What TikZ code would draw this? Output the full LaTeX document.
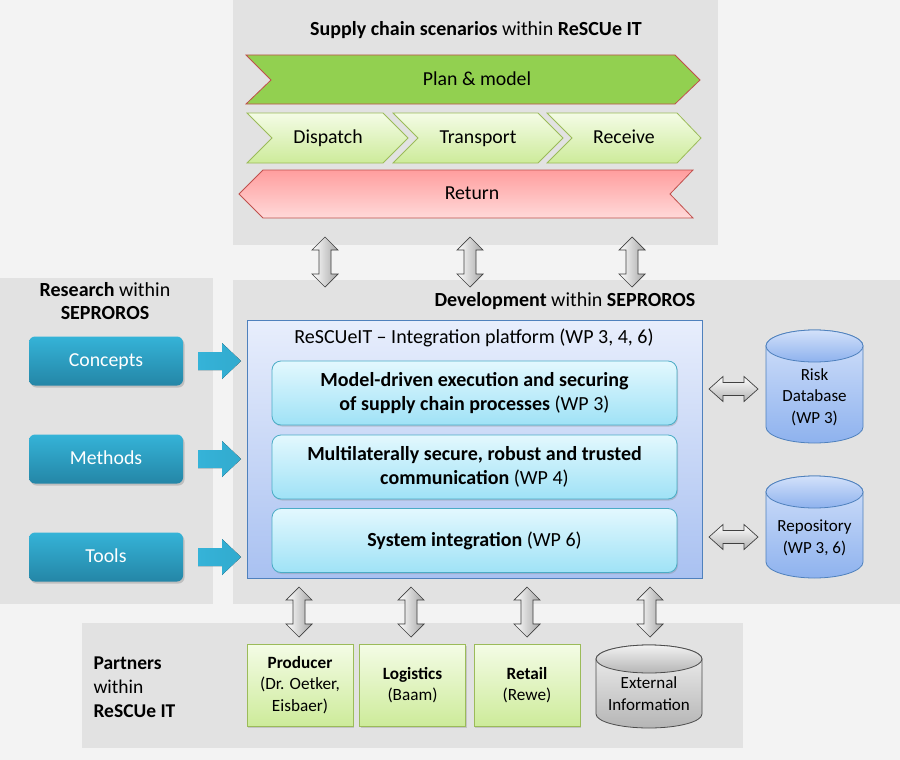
\documentclass[tikz,border=0pt]{standalone}
\usepackage{fontspec}
\setmainfont{Carlito}
\usetikzlibrary{shadows}
\definecolor{bgc}{HTML}{F3F3F3}
\definecolor{panel}{HTML}{E2E2E2}
\definecolor{plang}{HTML}{92D050}
\definecolor{redb}{HTML}{C0504D}
\definecolor{greenb}{HTML}{9BBB59}
\definecolor{lgreen1}{HTML}{F4FCE6}
\definecolor{lgreen2}{HTML}{CDEB9A}
\definecolor{pink1}{HTML}{FF9E9E}
\definecolor{pink2}{HTML}{FFD9D9}
\definecolor{teal1}{HTML}{35B3D8}
\definecolor{teal2}{HTML}{2486A6}
\definecolor{blueb}{HTML}{4F81BD}
\definecolor{blue1}{HTML}{E8EEFC}
\definecolor{blue2}{HTML}{A9C1F1}
\definecolor{cyan1}{HTML}{E3F8FE}
\definecolor{cyan2}{HTML}{9FE2F6}
\definecolor{cyanb}{HTML}{4BACC6}
\definecolor{cyl1}{HTML}{D3E1FA}
\definecolor{cyl2}{HTML}{8EB2EE}
\definecolor{gry1}{HTML}{F2F2F2}
\definecolor{gry2}{HTML}{B5B5B5}
\newcommand\fsz[2]{\fontsize{#1}{#2}\selectfont}
\newcommand\vdarrow[3]{\draw[blockarr] (#1,#2) -- ++(13,13) -- ++(-7,0) -- (#1+6,#3-13) -- ++(7,0) -- (#1,#3) -- ++(-13,-13) -- ++(7,0) -- (#1-6,#2+13) -- ++(-7,0) -- cycle;}
\newcommand\hdarrow[3]{\draw[hblockarr] (#1,#3) -- ++(14,-12.5) -- ++(0,6) -- (#2-14,#3-6.5) -- ++(0,-6) -- (#2,#3) -- ++(-14,12.5) -- ++(0,-6) -- (#1+14,#3+6.5) -- ++(0,6) -- cycle;}
\newcommand\tealarrow[1]{\fill[left color=teal1,right color=teal1!80!teal2] (198,#1-9) -- (222,#1-9) -- (222,#1-18) -- (241,#1) -- (222,#1+18) -- (222,#1+9) -- (198,#1+9) -- cycle;}
\newcommand\cyl[6]{% x1 x2 ytop ybot ry style
  \draw[#6] (#1,#3) -- (#1,#4) arc[start angle=180,end angle=360,x radius={(#2-#1)/2*1pt},y radius=#5pt] -- (#2,#3) arc[start angle=0,end angle=180,x radius={(#2-#1)/2*1pt},y radius=#5pt] -- cycle;
  \draw[#6] ({(#1+#2)/2},#3) ellipse[x radius={(#2-#1)/2*1pt},y radius=#5pt];}
\begin{document}
\begin{tikzpicture}[x=1pt,y=-1pt,
  blockarr/.style={draw=black!75,line width=0.7pt,left color=white,right color=gray!70},
  hblockarr/.style={draw=black!75,line width=0.7pt,top color=white,bottom color=gray!60},
  title/.style={font=\fsz{20}{23}},
  chevtxt/.style={font=\fsz{19.8}{23},text depth=0.45ex},
  tealbox/.style={rounded corners=6pt,top color=teal1,bottom color=teal2,minimum width=154pt,minimum height=49pt,text=white,font=\fsz{19.8}{23},text depth=0.45ex,drop shadow={shadow xshift=1.5pt,shadow yshift=-2pt,opacity=0.35}},
  cyanbox/.style={rounded corners=9pt,draw=cyanb,line width=0.8pt,top color=cyan1,bottom color=cyan2,minimum width=405pt,minimum height=64pt,align=center,font=\fsz{20}{24.5},drop shadow={shadow xshift=1pt,shadow yshift=-1.5pt,opacity=0.3}},
  partner/.style={draw=greenb,line width=0.8pt,top color=lgreen1,bottom color=lgreen2,minimum width=106pt,minimum height=82pt,align=center,font=\fsz{17.2}{21.5},drop shadow={shadow xshift=1pt,shadow yshift=-1.5pt,opacity=0.3}},
  cyltxt/.style={align=center,font=\fsz{17}{21.5}}]
\useasboundingbox (0,0) rectangle (900,760);
\fill[bgc] (0,0) rectangle (900,760);
% panels
\fill[panel] (233,0) rectangle (718,245);
\fill[panel] (0,278) rectangle (213,604);
\fill[panel] (233,280) rectangle (900,604);
\fill[panel] (82,623) rectangle (743,748);
% top panel
\node[title] (sctitle) at (476,30) {\textbf{Supply chain scenarios} within \textbf{ReSCUe IT}};
\draw[redb,line width=0.8pt,fill=plang] (246,55) -- (675,55) -- (700,80) -- (675,104) -- (246,104) -- (271,80) -- cycle;
\node[chevtxt] (plan) at (477,80) {Plan \& model};
\draw[greenb,line width=0.8pt,top color=lgreen1,bottom color=lgreen2] (247,113) -- (383,113) -- (408,138) -- (383,163) -- (247,163) -- (272,138) -- cycle;
\node[chevtxt] (dispatch) at (328,138) {Dispatch};
\draw[greenb,line width=0.8pt,top color=lgreen1,bottom color=lgreen2] (393,113) -- (538,113) -- (563,138) -- (538,163) -- (393,163) -- (418,138) -- cycle;
\node[chevtxt] (transport) at (478,138) {Transport};
\draw[greenb,line width=0.8pt,top color=lgreen1,bottom color=lgreen2] (547,113) -- (677,113) -- (701,138) -- (677,163) -- (547,163) -- (572,138) -- cycle;
\node[chevtxt] (receive) at (624,138) {Receive};
\draw[redb,line width=0.8pt,top color=pink1,bottom color=pink2] (239,194) -- (263,170) -- (693,170) -- (670,194) -- (693,218) -- (263,218) -- cycle;
\node[chevtxt] (return) at (472,194) {Return};
% top arrows
\vdarrow{325}{237}{287}
\vdarrow{470}{237}{287}
\vdarrow{632}{237}{287}
% research
\node[title,align=center] (restitle) at (105,301) {\textbf{Research} within\\\textbf{SEPROROS}};
\node[tealbox] (concepts) at (106,361) {Concepts};
\node[tealbox] (methods) at (106,459) {Methods};
\node[tealbox] (tools) at (106,557) {Tools};
\tealarrow{361}
\tealarrow{459}
\tealarrow{557}
% development
\node[title] (devtitle) at (565,301) {\textbf{Development} within \textbf{SEPROROS}};
\draw[blueb,line width=0.8pt,top color=blue1,bottom color=blue2] (247,320) rectangle (702,578);
\node[font=\fsz{20}{23}] (plattitle) at (474,338) {ReSCUeIT – Integration platform (WP 3, 4, 6)};
\node[cyanbox] (wp3) at (474.5,393) {\textbf{Model-driven execution and securing}\\\textbf{of supply chain processes} (WP 3)};
\node[cyanbox] (wp4) at (474.5,467) {\textbf{Multilaterally secure, robust and trusted}\\\textbf{communication} (WP 4)};
\node[cyanbox] (wp6) at (474.5,540.5) {\textbf{System integration} (WP 6)};
% databases
\hdarrow{709}{758}{389}
\hdarrow{709}{758}{537}
\cyl{766}{863}{346}{427}{16}{blueb,line width=0.8pt,top color=cyl1,bottom color=cyl2}
\node[cyltxt] (riskdb) at (814.5,397) {Risk\\Database\\(WP 3)};
\cyl{766}{863}{492}{562}{16}{blueb,line width=0.8pt,top color=cyl1,bottom color=cyl2}
\node[cyltxt] (repo) at (814.5,538) {Repository\\(WP 3, 6)};
% bottom arrows
\vdarrow{299}{587}{637}
\vdarrow{411}{587}{637}
\vdarrow{527}{587}{637}
\vdarrow{650}{587}{637}
% partners
\node[font=\fsz{19.5}{24},align=left,anchor=west] (partners) at (90,687) {\textbf{Partners}\\within\\\textbf{ReSCUe IT}};
\node[partner] (producer) at (300,685) {\textbf{Producer}\\(Dr. Oetker,\\Eisbaer)};
\node[partner] (logistics) at (412.5,685) {\textbf{Logistics}\\(Baam)};
\node[partner] (retail) at (527,685) {\textbf{Retail}\\(Rewe)};
\cyl{596}{702}{659}{714}{14}{black!70,line width=0.8pt,top color=gry1,bottom color=gry2}
\node[cyltxt] (extinfo) at (649,693.5) {External\\Information};
\end{tikzpicture}
\end{document}
